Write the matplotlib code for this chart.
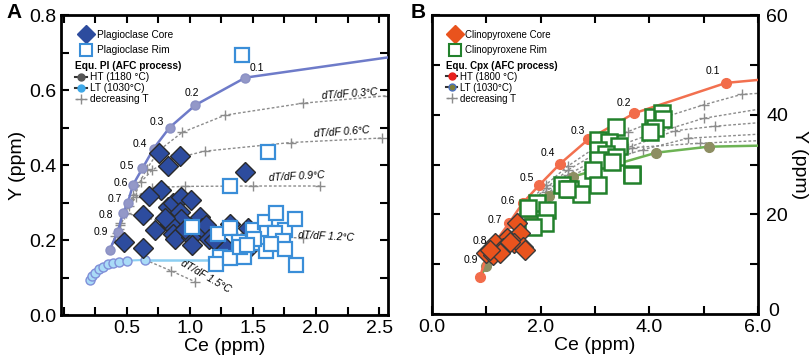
import matplotlib.pyplot as plt
from matplotlib.lines import Line2D
from matplotlib.ticker import MultipleLocator
from matplotlib.transforms import ScaledTranslation

# ---------------- Panel A : plagioclase ----------------
pl_ht_x = [0.365, 0.43, 0.47, 0.51, 0.55, 0.625, 0.714, 0.84, 1.045, 1.44, 2.57]
pl_ht_y = [0.173, 0.222, 0.271, 0.30, 0.347, 0.391, 0.444, 0.50, 0.56, 0.633, 0.687]
pl_ht_mark_x = [0.365, 0.43, 0.47, 0.51, 0.55, 0.625, 0.714, 0.84, 1.045, 1.44]
pl_ht_mark_y = [0.173, 0.222, 0.271, 0.30, 0.347, 0.391, 0.444, 0.50, 0.56, 0.633]
pl_f_labels = ["0.9", "0.8", "0.7", "0.6", "0.5", "0.4", "0.3", "0.2", "0.1"]
pl_f_lab_x = [0.299, 0.339, 0.405, 0.45, 0.50, 0.603, 0.736, 1.02, 1.53]
pl_f_lab_y = [0.222, 0.268, 0.309, 0.351, 0.398, 0.456, 0.515, 0.591, 0.658]

pl_lt_x = [0.206, 0.228, 0.251, 0.278, 0.312, 0.352, 0.392, 0.437, 0.505, 0.648]
pl_lt_y = [0.093, 0.104, 0.113, 0.122, 0.129, 0.135, 0.140, 0.142, 0.145, 0.147]
pl_lt_tail_x = [0.648, 1.25]
pl_lt_tail_y = [0.147, 0.147]

# decreasing T paths (dT/dF)
pl_d03_x = [0.37, 0.45, 0.55, 0.66, 0.76, 0.94, 1.28, 1.9, 2.57]
pl_d03_y = [0.175, 0.24, 0.32, 0.39, 0.44, 0.487, 0.533, 0.565, 0.585]
pl_d06_x = [0.37, 0.44, 0.52, 0.616, 0.704, 0.85, 1.12, 1.8, 2.52]
pl_d06_y = [0.175, 0.23, 0.29, 0.356, 0.387, 0.415, 0.437, 0.46, 0.472]
pl_d09_x = [0.37, 0.42, 0.48, 0.577, 0.70, 0.96, 1.5, 2.03]
pl_d09_y = [0.175, 0.22, 0.27, 0.316, 0.34, 0.343, 0.344, 0.344]
pl_d12_x = [0.37, 0.41, 0.45, 0.497, 0.62, 0.85, 1.2, 1.6, 1.9]
pl_d12_y = [0.175, 0.21, 0.245, 0.271, 0.262, 0.245, 0.225, 0.21, 0.205]
pl_d15_x = [0.648, 0.85, 1.04]
pl_d15_y = [0.147, 0.118, 0.089]

pl_core_x = [0.757, 0.828, 0.92, 1.437, 0.77, 0.677, 0.828, 0.868, 0.934, 1.013,
             0.92, 0.934, 0.841, 0.63, 0.722, 0.868, 0.881, 1.013, 1.02, 1.08,
             1.093, 1.13, 1.153, 0.476, 0.63, 1.317, 1.29, 1.46, 1.476, 0.80,
             0.96, 1.19]
pl_core_y = [0.433, 0.398, 0.424, 0.381, 0.333, 0.318, 0.287, 0.298, 0.316, 0.307,
             0.276, 0.255, 0.244, 0.267, 0.227, 0.216, 0.204, 0.209, 0.187, 0.262,
             0.231, 0.24, 0.204, 0.195, 0.18, 0.244, 0.18, 0.231, 0.182, 0.26,
             0.23, 0.20]

pl_rim_x = [1.41, 1.62, 1.317, 1.018, 1.225, 1.317, 1.389, 1.238, 1.206, 1.317,
            1.43, 1.397, 1.5, 1.595, 1.683, 1.754, 1.833, 1.61, 1.675, 1.74,
            1.754, 1.556, 1.603, 1.64, 1.84, 1.508, 1.45]
pl_rim_y = [0.693, 0.435, 0.344, 0.234, 0.216, 0.231, 0.195, 0.154, 0.135, 0.151,
            0.154, 0.182, 0.227, 0.249, 0.273, 0.227, 0.255, 0.218, 0.218, 0.198,
            0.175, 0.191, 0.171, 0.189, 0.133, 0.204, 0.187]

# ---------------- Panel B : clinopyroxene ----------------
cpx_ht_x = [0.88, 1.02, 1.19, 1.42, 1.67, 1.975, 2.36, 2.88, 3.72, 5.41, 6.0]
cpx_ht_y = [7.4, 12.2, 14.85, 18.3, 22.3, 25.9, 30.2, 35.1, 40.3, 46.4, 47.0]
cpx_f_labels = ["0.9", "0.8", "0.7", "0.6", "0.5", "0.4", "0.3", "0.2", "0.1"]
cpx_f_lab_x = [0.72, 0.88, 1.16, 1.40, 1.74, 2.14, 2.69, 3.53, 5.17]
cpx_f_lab_y = [10.8, 14.7, 18.9, 22.7, 27.4, 32.4, 36.7, 42.3, 48.8]

cpx_lt_x = [0.88, 1.0, 1.2, 1.45, 1.8, 2.15, 2.6, 4.13, 5.09, 6.0]
cpx_lt_y = [7.4, 9.6, 12.5, 15.6, 19.5, 23.6, 27.6, 32.4, 33.6, 33.8]

cpx_d1_x = [0.88, 1.3, 1.7, 2.1, 2.5, 3.0, 3.6, 4.3, 5.0, 5.7, 6.0]
cpx_d1_y = [7.4, 15.6, 21.6, 26.0, 29.7, 33.4, 36.6, 39.6, 42.0, 44.1, 44.3]
cpx_d2_x = [0.88, 1.3, 1.7, 2.1, 2.5, 3.0, 3.95, 5.0, 6.0]
cpx_d2_y = [7.4, 15.3, 21.1, 25.3, 28.9, 32.1, 35.8, 39.3, 41.1]
cpx_d3_x = [0.88, 1.3, 1.7, 2.1, 2.5, 3.0, 3.6, 4.47, 5.2, 6.0]
cpx_d3_y = [7.4, 15.0, 20.6, 24.6, 28.0, 30.9, 33.4, 36.8, 37.7, 38.4]
cpx_d4_x = [0.88, 1.3, 1.7, 2.1, 2.5, 3.0, 3.88, 4.72, 6.0]
cpx_d4_y = [7.4, 14.7, 20.2, 24.0, 27.4, 30.0, 33.0, 35.3, 36.1]
cpx_d5_x = [0.88, 1.3, 1.7, 2.1, 2.5, 3.0, 3.68, 4.93, 6.0]
cpx_d5_y = [7.4, 14.3, 19.8, 23.6, 26.9, 29.3, 33.4, 34.3, 34.8]

cpx_core_x = [1.56, 1.62, 1.375, 1.16, 1.5, 1.68, 1.31, 1.0, 1.13, 1.25, 1.07, 1.44, 1.71]
cpx_core_y = [18.2, 16.2, 15.2, 14.2, 14.2, 13.5, 13.2, 12.2, 11.8, 12.2, 12.8, 14.5, 12.8]

cpx_rim_x = [3.39, 3.06, 3.25, 3.45, 3.05, 3.21, 3.39, 3.05, 3.31, 2.97,
             4.07, 4.23, 4.26, 4.1, 4.01, 3.68, 2.4, 2.54, 2.75, 3.06,
             3.68, 1.93, 1.77, 2.11, 2.08, 1.86, 2.48]
cpx_rim_y = [37.6, 34.9, 34.6, 33.7, 32.9, 32.2, 31.6, 30.9, 30.6, 28.9,
             39.6, 40.3, 39.1, 37.3, 36.6, 28.2, 25.9, 25.2, 24.1, 25.9,
             27.9, 22.3, 21.2, 20.9, 18.2, 17.4, 25.2]

plt.rcParams['font.family'] = ['Liberation Sans', 'DejaVu Sans']
fig = plt.figure(figsize=(8.09, 3.61), dpi=100)
axA = fig.add_axes([0.0754, 0.1274, 0.4042, 0.831])
axB = fig.add_axes([0.534, 0.130, 0.403, 0.828])

dot_kw = dict(color='#8c8c8c', ls=(0, (2, 1.5)), lw=1.0, marker='+', ms=7, mew=1.0)


def style_axes(ax):
    ax.tick_params(which='both', direction='in', top=True, right=True, width=1.5)
    ax.tick_params(which='major', length=6, labelsize=14)
    ax.tick_params(which='minor', length=6)
    for s in ax.spines.values():
        s.set_linewidth(2)


# ---- A ----
for xs, ys in [(pl_d03_x, pl_d03_y), (pl_d06_x, pl_d06_y), (pl_d09_x, pl_d09_y),
               (pl_d12_x, pl_d12_y), (pl_d15_x, pl_d15_y)]:
    axA.plot(xs, ys, markevery=list(range(1, len(xs))), zorder=2, **dot_kw)

axA.plot(pl_ht_x, pl_ht_y, color='#6e7bc9', lw=1.8, zorder=3)
axA.plot(pl_ht_mark_x, pl_ht_mark_y, ls='none', marker='o', ms=6.5,
         mfc='#9398c8', mec='#8a90c4', zorder=3)
axA.plot(pl_lt_tail_x, pl_lt_tail_y, color='#8ccff2', lw=1.8, zorder=3)
axA.plot(pl_lt_x, pl_lt_y, color='#8ccff2', lw=1.5, marker='o', ms=6.5,
         mfc='#a9dbf7', mec='#7f8fd8', mew=1.0, zorder=3)

axA.plot(pl_core_x, pl_core_y, ls='none', marker='D', ms=10, mfc='#2d4c9e',
         mec='#2a2a2a', mew=1.0, zorder=4)
axA.plot(pl_rim_x, pl_rim_y, ls='none', marker='s', ms=10, mfc='white',
         mec='#3a8ed8', mew=1.6, zorder=5)

for lab, x, y in zip(pl_f_labels, pl_f_lab_x, pl_f_lab_y):
    axA.text(x, y, lab, fontsize=7.5, ha='center', va='center', zorder=6)

for txt, x, y, rot in [("dT/dF 0.3°C", 2.27, 0.59, 4), ("dT/dF 0.6°C", 2.2, 0.487, 4),
                       ("dT/dF 0.9°C", 1.85, 0.369, 3), ("dT/dF 1.2°C", 2.08, 0.209, -3),
                       ("dT/dF 1.5°C", 1.13, 0.102, -30)]:
    axA.text(x, y, txt, fontsize=7.5, style='italic', ha='center', va='center',
             rotation=rot, zorder=6)

axA.set_xlim(-0.02, 2.57)
axA.set_ylim(0, 0.8)
axA.xaxis.set_minor_locator(MultipleLocator(0.25))
axA.yaxis.set_major_locator(MultipleLocator(0.2))
axA.yaxis.set_minor_locator(MultipleLocator(0.1))
axA.set_xticks([0.0, 0.5, 1.0, 1.5, 2.0, 2.5])
axA.set_xticklabels(["", "0.5", "1.0", "1.5", "2.0", "2.5"])
style_axes(axA)
axA.set_xlabel("Ce (ppm)", fontsize=14, labelpad=1)
axA.set_ylabel("Y (ppm)", fontsize=14, labelpad=2)

legA1 = axA.legend(handles=[
    Line2D([], [], ls='none', marker='D', ms=9, mfc='#2d4c9e', mec='#2d4c9e'),
    Line2D([], [], ls='none', marker='s', ms=9, mfc='white', mec='#3a8ed8', mew=1.5)],
    labels=["Plagioclase Core", "Plagioclase Rim"], loc='upper left',
    bbox_to_anchor=(0.045, 0.965), frameon=False, fontsize=7.3, handlelength=1.2,
    handletextpad=0.5, labelspacing=0.55, borderaxespad=0)
axA.add_artist(legA1)
axA.legend(handles=[
    Line2D([], [], color='#333333', lw=1.5, marker='o', ms=5, mfc='#555555', mec='#555555'),
    Line2D([], [], color='#333333', lw=1.5, marker='o', ms=5, mfc='#3ea8e8', mec='#3ea8e8'),
    Line2D([], [], **dot_kw)],
    labels=["HT (1180 °C)", "LT (1030°C)", "decreasing T"], title="Equ. Pl (AFC process)",
    title_fontproperties={'size': 7.3, 'weight': 'bold'}, alignment='left',
    loc='upper left', bbox_to_anchor=(0.03, 0.86), frameon=False, fontsize=7.3,
    handlelength=1.2, handletextpad=0.3, labelspacing=0.1, borderaxespad=0)

# ---- B ----
for xs, ys in [(cpx_d1_x, cpx_d1_y), (cpx_d2_x, cpx_d2_y), (cpx_d3_x, cpx_d3_y),
               (cpx_d4_x, cpx_d4_y), (cpx_d5_x, cpx_d5_y)]:
    axB.plot(xs, ys, markevery=list(range(1, len(xs) - 1)), zorder=2, **dot_kw)

axB.plot(cpx_lt_x, cpx_lt_y, color='#6db354', lw=1.8, zorder=3)
axB.plot(cpx_lt_x[1:-1], cpx_lt_y[1:-1], ls='none', marker='o', ms=7,
         mfc='#8d8e62', mec='#8d8e62', zorder=3)
axB.plot(cpx_ht_x, cpx_ht_y, color='#f2704f', lw=1.8, zorder=3)
axB.plot(cpx_ht_x[:-1], cpx_ht_y[:-1], ls='none', marker='o', ms=7,
         mfc='#f26c4a', mec='#f26c4a', zorder=3)

axB.plot(cpx_rim_x, cpx_rim_y, ls='none', marker='s', ms=11, mfc='white',
         mec='#22812c', mew=1.8, zorder=4)
axB.plot(cpx_core_x, cpx_core_y, ls='none', marker='D', ms=10.5, mfc='#e9531d',
         mec='#3a3a3a', mew=1.0, zorder=5)

for lab, x, y in zip(cpx_f_labels, cpx_f_lab_x, cpx_f_lab_y):
    axB.text(x, y, lab, fontsize=7.5, ha='center', va='center', zorder=6)

axB.set_xlim(0, 6)
axB.set_ylim(0, 60)
axB.xaxis.set_major_locator(MultipleLocator(2))
axB.xaxis.set_minor_locator(MultipleLocator(1))
axB.set_yticks([0, 20, 40, 60])
axB.yaxis.set_minor_locator(MultipleLocator(10))
axB.xaxis.set_major_formatter(lambda v, p: f"{v:.1f}")
style_axes(axB)
axB.yaxis.tick_right()
axB.tick_params(which='both', left=True, labelleft=False, labelright=True)
axB.tick_params(axis='y', pad=6)
axB.yaxis.set_label_position('right')
axB.set_xlabel("Ce (ppm)", fontsize=14, labelpad=1)
axB.set_ylabel("Y (ppm)", fontsize=14, rotation=270, labelpad=14)

# nudge the "0" label on the right axis up so it clears "6.0"
zero_lab = axB.get_yticklabels()[0]
zero_lab.set_transform(zero_lab.get_transform() +
                       ScaledTranslation(0.02, 0.05, fig.dpi_scale_trans))

legB1 = axB.legend(handles=[
    Line2D([], [], ls='none', marker='D', ms=9, mfc='#e9531d', mec='#e9531d'),
    Line2D([], [], ls='none', marker='s', ms=9, mfc='white', mec='#22812c', mew=1.5)],
    labels=["Clinopyroxene Core", "Clinopyroxene Rim"], loc='upper left',
    bbox_to_anchor=(0.04, 0.965), frameon=False, fontsize=7, handlelength=1.2,
    handletextpad=0.5, labelspacing=0.6, borderaxespad=0)
axB.add_artist(legB1)
axB.legend(handles=[
    Line2D([], [], color='#333333', lw=1.5, marker='o', ms=5, mfc='#e8201c', mec='#e8201c'),
    Line2D([], [], color='#333333', lw=1.5, marker='o', ms=5, mfc='#7d7d3a', mec='#4a70c0'),
    Line2D([], [], **dot_kw)],
    labels=["HT (1800 °C)", "LT (1030°C)", "decreasing T"], title="Equ. Cpx (AFC process)",
    title_fontproperties={'size': 7, 'weight': 'bold'}, alignment='left',
    loc='upper left', bbox_to_anchor=(0.03, 0.86), frameon=False, fontsize=7,
    handlelength=1.2, handletextpad=0.3, labelspacing=0.1, borderaxespad=0)

fig.text(0.008, 0.965, "A", fontsize=15, fontweight='bold', va='center')
fig.text(0.508, 0.965, "B", fontsize=15, fontweight='bold', va='center')

fig.savefig("out.png", dpi=100)
